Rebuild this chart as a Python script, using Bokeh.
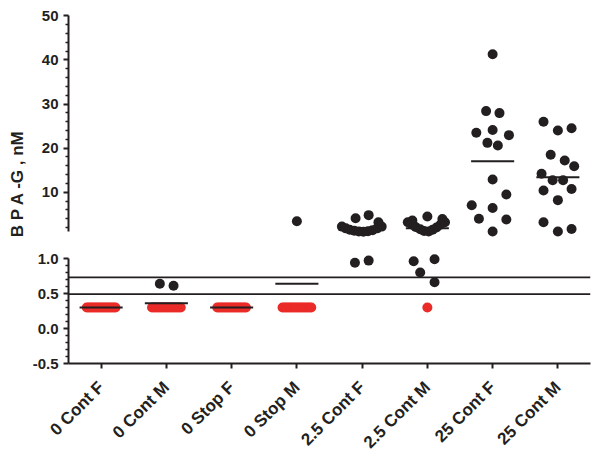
import math
import numpy as np
from bokeh.plotting import figure
from bokeh.layouts import column, row
from bokeh.models import Range1d, FixedTicker, PrintfTickFormatter, Span
from bokeh.core.properties import value
from bokeh.embed import file_html
from bokeh.resources import INLINE

# ---------------- data ----------------
categories = ["0 Cont F", "0 Cont M", "0 Stop F", "0 Stop M",
              "2.5 Cont F", "2.5 Cont M", "25 Cont F", "25 Cont M"]

# detected values (black dots) and their within-group jitter
vals_0_cont_f = []
jit_0_cont_f = []
vals_0_cont_m = [0.64, 0.61]
jit_0_cont_m = [-0.10, 0.11]
vals_0_stop_f = []
jit_0_stop_f = []
vals_0_stop_m = [3.4]
jit_0_stop_m = [0.0]
vals_2p5_cont_f = [0.94, 0.97, 4.1, 4.8, 3.2,
                   2.2, 1.8, 1.5, 1.25, 1.1, 1.05, 1.15, 1.4, 1.8, 2.2]
jit_2p5_cont_f = [-0.11, 0.10, -0.10, 0.10, 0.25,
                  -0.31, -0.25, -0.19, -0.12, -0.05, 0.02, 0.09, 0.16, 0.23, 0.30]
vals_2p5_cont_m = [0.96, 0.99, 0.80, 0.66, 3.6, 4.5, 3.9,
                   3.2, 2.7, 2.1, 1.6, 1.2, 1.1, 1.5, 2.0, 2.6, 3.2]
jit_2p5_cont_m = [-0.21, 0.11, -0.11, 0.11, -0.23, 0.0, 0.23,
                  -0.30, -0.24, -0.18, -0.11, -0.05, 0.02, 0.08, 0.14, 0.20, 0.27]
vals_25_cont_f = [41.3, 28.4, 27.95, 23.5, 24.1, 22.95, 21.2, 20.6,
                  12.9, 9.5, 7.05, 6.4, 4.0, 3.8, 1.1]
jit_25_cont_f = [0.0, -0.10, 0.105, -0.25, 0.0, 0.25, -0.08, 0.08,
                 0.0, 0.21, -0.32, 0.0, -0.21, 0.21, 0.0]
vals_25_cont_m = [26.0, 24.0, 24.5, 18.5, 17.2, 15.9, 14.2, 12.7, 12.7,
                  10.4, 10.75, 8.2, 3.2, 1.1, 1.65]
jit_25_cont_m = [-0.22, 0.0, 0.21, -0.11, 0.105, 0.25, -0.25, -0.08, 0.08,
                 -0.22, 0.21, 0.0, -0.22, 0.0, 0.21]

# non-detects (red dots plotted at the substitute value)
nd_counts = [16, 14, 16, 15, 0, 1, 0, 0]
nd_value = 0.3

# group means (horizontal bars)
means = [0.30, 0.36, 0.30, 0.64, 1.8, 1.8, 17.0, 13.4]

# reference lines in the lower panel
ref_lines = [0.73, 0.49]

upper_ticks = [10, 20, 30, 40, 50]
lower_ticks = [-0.5, 0.0, 0.5, 1.0]
y_title = "B P A -G , nM"

# ---------------- assemble ----------------
groups_vals = [vals_0_cont_f, vals_0_cont_m, vals_0_stop_f, vals_0_stop_m,
               vals_2p5_cont_f, vals_2p5_cont_m, vals_25_cont_f, vals_25_cont_m]
groups_jit = [jit_0_cont_f, jit_0_cont_m, jit_0_stop_f, jit_0_stop_m,
              jit_2p5_cont_f, jit_2p5_cont_m, jit_25_cont_f, jit_25_cont_m]

BREAK = 1.0
bx_up, by_up, bx_lo, by_lo = [], [], [], []
for i, (vals, jit) in enumerate(zip(groups_vals, groups_jit)):
    for v, j in zip(vals, jit):
        if v >= BREAK:
            bx_up.append(i + j); by_up.append(v)
        else:
            bx_lo.append(i + j); by_lo.append(v)

rx, ry = [], []
for i, n in enumerate(nd_counts):
    if n == 0:
        continue
    offs = [0.0] if n == 1 else list(np.linspace(-0.22, 0.22, n))
    for o in offs:
        rx.append(i + o); ry.append(nd_value)

HALF = 0.33
m_up_x0, m_up_x1, m_up_y, m_lo_x0, m_lo_x1, m_lo_y = [], [], [], [], [], []
for i, m in enumerate(means):
    if m >= BREAK:
        m_up_x0.append(i - HALF); m_up_x1.append(i + HALF); m_up_y.append(m)
    else:
        m_lo_x0.append(i - HALF); m_lo_x1.append(i + HALF); m_lo_y.append(m)

# ---------------- styling ----------------
FONT = "Liberation Sans"
INK = "#231F20"
RED = "#EA2B27"
DOT = 10
LEFT_W = 26          # width of the strip holding the y title
BORDER_L = 42
FRAME_W = 522
BORDER_R = 8
UP_TOP, UP_H, UP_BOT = 11, 227, 13
LO_TOP, LO_H, LO_BOT = 0, 112, 100
TOTAL_H = UP_TOP + UP_H + UP_BOT + LO_TOP + LO_H + LO_BOT

x_range = Range1d(-0.5, len(categories) - 0.5)


def style_yaxis(ax):
    ax.axis_line_width = 2
    ax.axis_line_color = INK
    ax.major_tick_line_width = 2
    ax.major_tick_line_color = INK
    ax.minor_tick_line_width = 1.5
    ax.minor_tick_line_color = INK
    ax.major_tick_out = 5
    ax.major_tick_in = 0
    ax.minor_tick_out = 3
    ax.minor_tick_in = 0
    ax.major_label_text_font = FONT
    ax.major_label_text_font_style = "bold"
    ax.major_label_text_font_size = "15px"
    ax.major_label_text_color = INK


# strip with the y title
tf = figure(x_range=Range1d(0, LEFT_W), y_range=Range1d(0, TOTAL_H),
            frame_width=LEFT_W, frame_height=TOTAL_H,
            min_border_left=0, min_border_right=0, min_border_top=0, min_border_bottom=0,
            x_axis_location=None, y_axis_location=None,
            toolbar_location=None, output_backend="svg")
tf.outline_line_color = None
tf.xgrid.visible = False
tf.ygrid.visible = False
tf.text(x=[17], y=[TOTAL_H - 183], text=[y_title], angle=math.pi / 2,
        text_align="center", text_baseline="middle",
        text_font=value(FONT), text_font_style="bold",
        text_font_size="17px", text_color=INK)

# upper panel
up = figure(x_range=x_range, y_range=Range1d(-0.5, 51),
            frame_width=FRAME_W, frame_height=UP_H,
            min_border_left=BORDER_L, min_border_right=BORDER_R,
            min_border_top=UP_TOP, min_border_bottom=UP_BOT,
            x_axis_location=None, toolbar_location=None, output_backend="svg")
up.outline_line_color = None
up.xgrid.visible = False
up.ygrid.visible = False
ya = up.yaxis[0]
ya.bounds = (1, 50)
ya.ticker = FixedTicker(ticks=upper_ticks,
                        minor_ticks=[v for v in range(2, 50, 2) if v % 10 != 0])
style_yaxis(ya)

up.segment(x0=m_up_x0, x1=m_up_x1, y0=m_up_y, y1=m_up_y, line_color=INK, line_width=2)
up.scatter(bx_up, by_up, size=DOT, fill_color=INK, line_color=None)

# lower panel
lo = figure(x_range=x_range, y_range=Range1d(-0.5, 1.1),
            frame_width=FRAME_W, frame_height=LO_H,
            min_border_left=BORDER_L, min_border_right=BORDER_R,
            min_border_top=LO_TOP, min_border_bottom=LO_BOT,
            toolbar_location=None, output_backend="svg")
lo.outline_line_color = None
lo.xgrid.visible = False
lo.ygrid.visible = False
yl = lo.yaxis[0]
yl.bounds = (-0.5, 1.0)
yl.ticker = FixedTicker(ticks=lower_ticks,
                        minor_ticks=[round(-0.5 + 0.1 * k, 1) for k in range(16)
                                     if k % 5 != 0])
yl.formatter = PrintfTickFormatter(format="%.1f")
style_yaxis(yl)

xa = lo.xaxis[0]
xa.ticker = FixedTicker(ticks=list(range(len(categories))))
xa.major_label_overrides = {i: c for i, c in enumerate(categories)}
xa.major_label_orientation = math.pi / 4
xa.major_label_standoff = 16
xa.axis_line_width = 2
xa.axis_line_color = INK
xa.major_tick_line_width = 2
xa.major_tick_line_color = INK
xa.major_tick_out = 5
xa.major_tick_in = 0
xa.minor_tick_line_color = None
xa.major_label_text_font = FONT
xa.major_label_text_font_style = "bold"
xa.major_label_text_font_size = "17px"
xa.major_label_text_color = INK

for r in ref_lines:
    lo.add_layout(Span(location=r, dimension="width", line_color=INK, line_width=1.8))

lo.scatter(rx, ry, size=DOT, fill_color=RED, line_color=None)
lo.scatter(bx_lo, by_lo, size=DOT, fill_color=INK, line_color=None)
lo.segment(x0=m_lo_x0, x1=m_lo_x1, y0=m_lo_y, y1=m_lo_y, line_color=INK, line_width=2)

layout = row(tf, column(up, lo, spacing=0), spacing=0)
open("out.html", "w").write(file_html(layout, INLINE))
